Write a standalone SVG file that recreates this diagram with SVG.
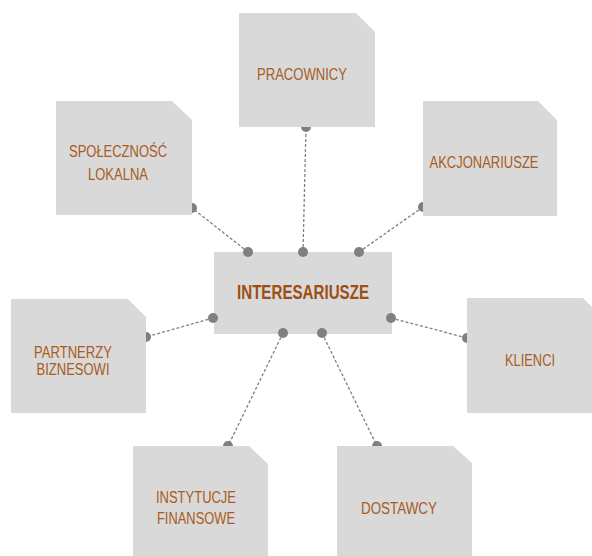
<svg xmlns="http://www.w3.org/2000/svg" width="592" height="556" viewBox="0 0 592 556">
<style>
.box{fill:#D9D9D9;}
.lbl{font-family:"Liberation Sans",Arial,sans-serif;font-size:16px;fill:#A85C22;text-anchor:middle;}
.main{font-family:"Liberation Sans",Arial,sans-serif;font-size:20px;font-weight:bold;fill:#9E4D14;text-anchor:middle;}
.con{stroke:#808080;stroke-width:1.3;stroke-dasharray:3 2;fill:none;}
.dot{fill:#808080;}
</style>
<rect width="592" height="556" fill="#FFFFFF"/>
<g id="connectors">
<line class="con" x1="303" y1="252" x2="306" y2="127"/>
<line class="con" x1="248" y1="252" x2="192" y2="208"/>
<line class="con" x1="359" y1="252" x2="423" y2="207"/>
<line class="con" x1="213" y1="318" x2="146" y2="337"/>
<line class="con" x1="391" y1="318" x2="467" y2="338"/>
<line class="con" x1="283" y1="333" x2="228" y2="446"/>
<line class="con" x1="322" y1="333" x2="377" y2="446"/>
<circle class="dot" cx="306" cy="127" r="5"/>
<circle class="dot" cx="192" cy="208" r="5"/>
<circle class="dot" cx="423" cy="207" r="5"/>
<circle class="dot" cx="146" cy="337" r="5"/>
<circle class="dot" cx="467" cy="338" r="5"/>
<circle class="dot" cx="228" cy="446" r="5"/>
<circle class="dot" cx="377" cy="446" r="5"/>
</g>
<g id="interesariusze">
<rect class="box" x="214" y="252" width="178" height="82"/>
<text class="main" x="303" y="299" textLength="132" lengthAdjust="spacingAndGlyphs">INTERESARIUSZE</text>
<circle class="dot" cx="248" cy="252" r="5"/>
<circle class="dot" cx="303" cy="252" r="5"/>
<circle class="dot" cx="359" cy="252" r="5"/>
<circle class="dot" cx="213" cy="318" r="5"/>
<circle class="dot" cx="391" cy="318" r="5"/>
<circle class="dot" cx="283" cy="333" r="5"/>
<circle class="dot" cx="322" cy="333" r="5"/>
</g>
<g id="pracownicy">
<path class="box" d="M239,13 H356 L375,32 V127 H239 Z"/>
<text class="lbl" x="302" y="80" textLength="90" lengthAdjust="spacingAndGlyphs">PRACOWNICY</text>
</g>
<g id="spolecznosc">
<path class="box" d="M56,101 H172 L192,120 V215 H56 Z"/>
<text class="lbl" x="118" y="157" textLength="98" lengthAdjust="spacingAndGlyphs">SPOŁECZNOŚĆ</text>
<text class="lbl" x="118" y="180" textLength="60" lengthAdjust="spacingAndGlyphs">LOKALNA</text>
</g>
<g id="akcjonariusze">
<path class="box" d="M423,101 H538 L557,120 V216 H423 Z"/>
<text class="lbl" x="484" y="168" textLength="109" lengthAdjust="spacingAndGlyphs">AKCJONARIUSZE</text>
</g>
<g id="partnerzy">
<path class="box" d="M11,299 H128 L146,317 V413 H11 Z"/>
<text class="lbl" x="73" y="358" textLength="78" lengthAdjust="spacingAndGlyphs">PARTNERZY</text>
<text class="lbl" x="73" y="375" textLength="73" lengthAdjust="spacingAndGlyphs">BIZNESOWI</text>
</g>
<g id="klienci">
<path class="box" d="M467,298 H583 L602,317 V413 H467 Z"/>
<text class="lbl" x="530" y="366" textLength="50" lengthAdjust="spacingAndGlyphs">KLIENCI</text>
</g>
<g id="instytucje">
<path class="box" d="M133,446 H249 L268,464 V560 H133 Z"/>
<text class="lbl" x="196" y="503" textLength="80" lengthAdjust="spacingAndGlyphs">INSTYTUCJE</text>
<text class="lbl" x="196" y="524" textLength="78" lengthAdjust="spacingAndGlyphs">FINANSOWE</text>
</g>
<g id="dostawcy">
<path class="box" d="M337,446 H453 L472,463 V560 H337 Z"/>
<text class="lbl" x="399" y="514" textLength="76" lengthAdjust="spacingAndGlyphs">DOSTAWCY</text>
</g>
</svg>
